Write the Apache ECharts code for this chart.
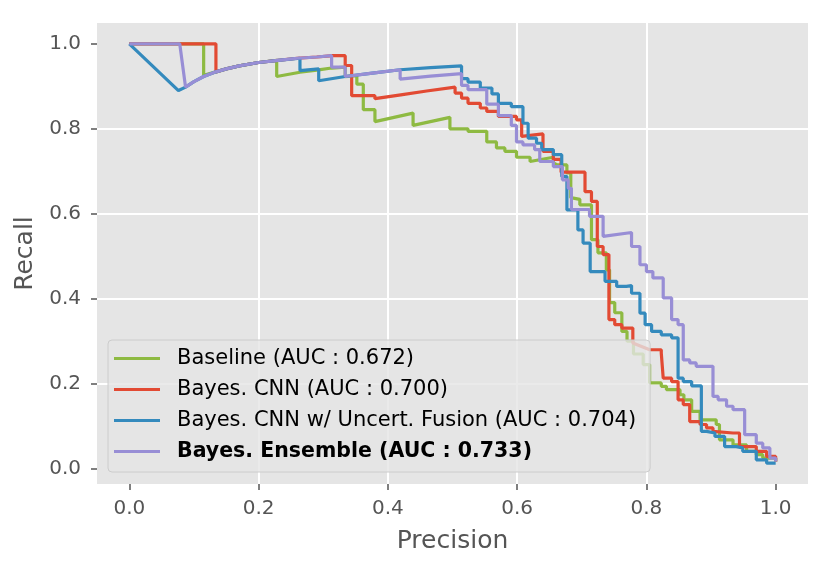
<!DOCTYPE html>
<html style="height: 100%">
<head>
<meta charset="utf-8" />
<title>PR curves</title>
</head>
<body style="height: 100%; margin: 0; background: #fff">
<div id="container" style="width: 831px; height: 569px"></div>
<script type="text/javascript" src="https://cdn.jsdelivr.net/npm/echarts@6/dist/echarts.min.js"></script>
<script type="text/javascript">
// [precision, recall] points
var baselinePts = [[0,1],[0.115,1],[0.115,0.926],[0.134,0.934],[0.15,0.941],[0.17,0.948],[0.20,0.956],[0.228,0.961],[0.228,0.923],[0.264,0.933],[0.290,0.938],[0.313,0.943],[0.334,0.945],[0.334,0.923],[0.352,0.925],[0.352,0.905],[0.362,0.905],[0.362,0.845],[0.380,0.845],[0.380,0.817],[0.439,0.837],[0.439,0.808],[0.496,0.827],[0.496,0.800],[0.524,0.800],[0.524,0.794],[0.553,0.794],[0.553,0.769],[0.568,0.769],[0.568,0.755],[0.581,0.755],[0.581,0.747],[0.599,0.747],[0.599,0.733],[0.620,0.733],[0.620,0.723],[0.656,0.733],[0.656,0.720],[0.662,0.715],[0.677,0.715],[0.677,0.696],[0.683,0.696],[0.683,0.638],[0.697,0.634],[0.697,0.621],[0.715,0.621],[0.715,0.539],[0.725,0.539],[0.725,0.508],[0.738,0.508],[0.738,0.468],[0.743,0.468],[0.743,0.391],[0.751,0.391],[0.751,0.367],[0.762,0.367],[0.762,0.323],[0.770,0.323],[0.770,0.300],[0.780,0.300],[0.780,0.270],[0.795,0.270],[0.795,0.245],[0.805,0.245],[0.805,0.202],[0.823,0.202],[0.823,0.194],[0.831,0.194],[0.831,0.186],[0.852,0.186],[0.852,0.174],[0.858,0.174],[0.858,0.162],[0.870,0.162],[0.870,0.135],[0.883,0.135],[0.883,0.115],[0.908,0.115],[0.908,0.104],[0.913,0.104],[0.913,0.068],[0.934,0.068],[0.934,0.056],[0.955,0.056],[0.955,0.041],[0.970,0.041],[0.970,0.033],[0.980,0.033],[0.980,0.025],[1.0,0.025],[1.0,0.017]];

var bayesCnnPts = [[0,1],[0.134,1],[0.134,0.934],[0.15,0.941],[0.17,0.948],[0.20,0.956],[0.23,0.961],[0.26,0.966],[0.29,0.969],[0.315,0.972],[0.334,0.972],[0.334,0.949],[0.344,0.949],[0.344,0.878],[0.380,0.878],[0.380,0.871],[0.42,0.880],[0.46,0.889],[0.504,0.898],[0.504,0.884],[0.514,0.884],[0.514,0.872],[0.524,0.872],[0.524,0.860],[0.543,0.860],[0.543,0.849],[0.553,0.849],[0.553,0.841],[0.571,0.841],[0.571,0.829],[0.599,0.829],[0.599,0.821],[0.607,0.821],[0.607,0.782],[0.640,0.788],[0.640,0.747],[0.656,0.747],[0.656,0.728],[0.668,0.728],[0.668,0.698],[0.705,0.698],[0.705,0.652],[0.715,0.652],[0.715,0.629],[0.724,0.629],[0.724,0.523],[0.733,0.523],[0.733,0.504],[0.742,0.504],[0.742,0.351],[0.751,0.351],[0.751,0.339],[0.762,0.339],[0.762,0.331],[0.779,0.331],[0.779,0.296],[0.805,0.280],[0.823,0.280],[0.823,0.272],[0.826,0.272],[0.826,0.213],[0.839,0.213],[0.839,0.205],[0.849,0.205],[0.849,0.162],[0.857,0.162],[0.857,0.151],[0.867,0.151],[0.867,0.111],[0.883,0.111],[0.883,0.104],[0.893,0.104],[0.893,0.096],[0.903,0.096],[0.903,0.088],[0.934,0.084],[0.944,0.084],[0.944,0.052],[0.970,0.052],[0.970,0.041],[0.986,0.041],[0.986,0.029],[1.0,0.029],[1.0,0.017]];

var fusionPts = [[0,1],[0.076,0.890],[0.087,0.898],[0.10,0.911],[0.115,0.923],[0.134,0.934],[0.15,0.941],[0.17,0.948],[0.20,0.956],[0.23,0.961],[0.264,0.966],[0.264,0.937],[0.293,0.941],[0.293,0.913],[0.334,0.923],[0.376,0.931],[0.419,0.939],[0.466,0.944],[0.514,0.948],[0.514,0.918],[0.524,0.918],[0.524,0.910],[0.543,0.910],[0.543,0.896],[0.561,0.896],[0.561,0.882],[0.571,0.882],[0.571,0.860],[0.591,0.860],[0.591,0.852],[0.609,0.852],[0.609,0.813],[0.617,0.813],[0.617,0.778],[0.630,0.778],[0.630,0.766],[0.638,0.766],[0.638,0.751],[0.656,0.751],[0.656,0.739],[0.669,0.739],[0.669,0.688],[0.677,0.688],[0.677,0.609],[0.694,0.609],[0.694,0.562],[0.702,0.562],[0.702,0.531],[0.713,0.531],[0.713,0.464],[0.736,0.464],[0.736,0.441],[0.754,0.441],[0.754,0.429],[0.769,0.429],[0.777,0.431],[0.777,0.413],[0.790,0.413],[0.790,0.366],[0.798,0.366],[0.798,0.339],[0.808,0.339],[0.808,0.323],[0.823,0.323],[0.823,0.315],[0.839,0.315],[0.839,0.308],[0.849,0.308],[0.849,0.213],[0.857,0.213],[0.857,0.205],[0.870,0.205],[0.870,0.195],[0.885,0.195],[0.885,0.088],[0.893,0.088],[0.893,0.084],[0.906,0.084],[0.906,0.076],[0.921,0.076],[0.921,0.052],[0.939,0.052],[0.939,0.049],[0.949,0.049],[0.949,0.041],[0.970,0.041],[0.970,0.021],[0.986,0.021],[0.986,0.013],[1.0,0.013]];

var ensemblePts = [[0,1],[0.078,1],[0.087,0.898],[0.10,0.911],[0.115,0.923],[0.134,0.934],[0.15,0.941],[0.17,0.948],[0.20,0.956],[0.23,0.961],[0.26,0.966],[0.29,0.969],[0.313,0.972],[0.313,0.945],[0.334,0.945],[0.334,0.923],[0.376,0.931],[0.419,0.939],[0.419,0.917],[0.466,0.924],[0.514,0.930],[0.514,0.902],[0.524,0.902],[0.524,0.892],[0.553,0.892],[0.553,0.858],[0.571,0.858],[0.571,0.831],[0.591,0.831],[0.591,0.808],[0.599,0.808],[0.599,0.769],[0.609,0.769],[0.609,0.762],[0.627,0.762],[0.627,0.751],[0.635,0.751],[0.635,0.723],[0.656,0.723],[0.656,0.711],[0.670,0.711],[0.670,0.680],[0.679,0.680],[0.679,0.660],[0.684,0.660],[0.684,0.610],[0.712,0.610],[0.712,0.594],[0.733,0.594],[0.733,0.547],[0.777,0.556],[0.777,0.523],[0.790,0.523],[0.790,0.480],[0.800,0.480],[0.800,0.464],[0.810,0.464],[0.810,0.449],[0.826,0.449],[0.826,0.402],[0.839,0.402],[0.839,0.351],[0.849,0.351],[0.849,0.339],[0.857,0.339],[0.857,0.256],[0.867,0.256],[0.867,0.249],[0.877,0.249],[0.877,0.241],[0.903,0.241],[0.903,0.170],[0.911,0.170],[0.911,0.162],[0.924,0.162],[0.924,0.147],[0.934,0.147],[0.934,0.139],[0.952,0.139],[0.952,0.080],[0.970,0.080],[0.970,0.060],[0.980,0.060],[0.980,0.049],[0.991,0.049],[0.991,0.025],[1.0,0.025],[1.0,0.017]];

var seriesNames = ['Baseline (AUC : 0.672)', 'Bayes. CNN (AUC : 0.700)', 'Bayes. CNN w/ Uncert. Fusion (AUC : 0.704)', 'Bayes. Ensemble (AUC : 0.733)'];
var tickValues = [0, 0.2, 0.4, 0.6, 0.8, 1.0];

var colors = ['#8EBA42', '#E24A33', '#348ABD', '#988ED5'];
var allPts = [baselinePts, bayesCnnPts, fusionPts, ensemblePts];
var font = 'DejaVu Sans';

var dom = document.getElementById('container');
var myChart = echarts.init(dom);

function axisCommon(name) {
    return {
        type: 'value',
        name: name,
        nameLocation: 'middle',
        nameTextStyle: { fontFamily: font, fontSize: 25, color: '#555555' },
        axisLine: { show: false, onZero: false },
        axisTick: { show: true, length: 6, customValues: tickValues, lineStyle: { color: '#555555', width: 1.5 } },
        axisLabel: {
            customValues: tickValues, fontFamily: font, fontSize: 20, color: '#555555',
            formatter: function (v) { return v.toFixed(1); }
        },
        splitLine: { show: true, showMinLine: false, showMaxLine: false, lineStyle: { color: '#ffffff', width: 2 } }
    };
}

var xAxis = axisCommon('Precision');
xAxis.min = -0.05; xAxis.max = 1.05; xAxis.nameGap = 45; xAxis.axisLabel.margin = 15;
var yAxis = axisCommon('Recall');
yAxis.min = -0.036; yAxis.max = 1.049; yAxis.nameGap = 57; yAxis.axisLabel.margin = 16;

var option = {
    animation: false,
    backgroundColor: '#ffffff',
    grid: { left: 97, right: 23, top: 23, bottom: 85, show: true, backgroundColor: '#E5E5E5', borderWidth: 0 },
    xAxis: xAxis,
    yAxis: yAxis,
    legend: {
        orient: 'vertical', left: 108, top: 340,
        padding: [8, 14, 10, 6],
        icon: 'rect',
        itemWidth: 46, itemHeight: 3, itemGap: 10,
        backgroundColor: 'rgba(229,229,229,0.8)', borderColor: '#cccccc', borderWidth: 1, borderRadius: 4,
        data: seriesNames,
        formatter: function (name) { return name === seriesNames[3] ? '{b|' + name + '}' : name; },
        textStyle: {
            fontFamily: font, fontSize: 21, lineHeight: 21, color: '#000', padding: [0, 0, 0, 12],
            rich: { b: { fontFamily: font, fontSize: 20.5, lineHeight: 21, fontWeight: 'bold', color: '#000' } }
        }
    },
    series: allPts.map(function (pts, i) {
        return {
            name: seriesNames[i], type: 'line', data: pts,
            showSymbol: false, symbol: 'none', z: 2 + i,
            lineStyle: { color: colors[i], width: 3.2 }, itemStyle: { color: colors[i] }
        };
    })
};
myChart.setOption(option);
</script>
</body>
</html>
